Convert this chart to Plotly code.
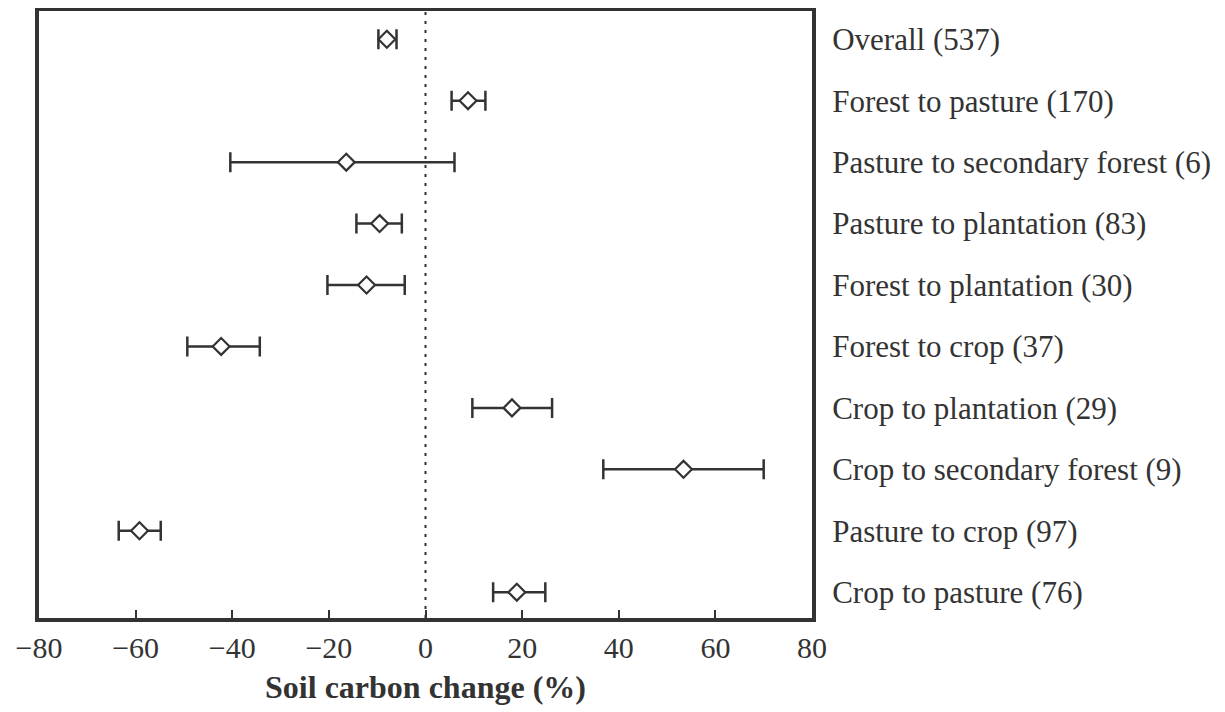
import plotly.graph_objects as go

categories = ["Overall (537)", "Forest to pasture (170)", "Pasture to secondary forest (6)",
              "Pasture to plantation (83)", "Forest to plantation (30)", "Forest to crop (37)",
              "Crop to plantation (29)", "Crop to secondary forest (9)", "Pasture to crop (97)",
              "Crop to pasture (76)"]
means = [-8.0, 8.8, -16.4, -9.5, -12.2, -42.3, 17.9, 53.4, -59.2, 18.9]
lower = [-9.75, 5.4, -40.4, -14.3, -20.3, -49.3, 9.7, 36.8, -63.5, 14.0]
upper = [-6.0, 12.4, 6.0, -4.9, -4.3, -34.3, 26.2, 70.0, -54.8, 24.8]
xticks = [-80, -60, -40, -20, 0, 20, 40, 60, 80]
xticklabels = ["\u221280", "\u221260", "\u221240", "\u221220", "0", "20", "40", "60", "80"]

rows = list(range(len(categories)))
err_plus = [u - m for u, m in zip(upper, means)]
err_minus = [m - l for m, l in zip(means, lower)]

ink = "#333333"
txt = "#333333"
fig = go.Figure()
fig.add_trace(go.Scatter(
    x=means, y=rows, mode="markers",
    marker=dict(symbol="diamond", size=13, color="white", line=dict(color=ink, width=2.2)),
    error_x=dict(type="data", symmetric=False, array=err_plus, arrayminus=err_minus,
                 color=ink, thickness=2.5, width=10),
    showlegend=False, hoverinfo="skip",
))

fig.add_shape(type="line", x0=0, x1=0, y0=0, y1=1, xref="x", yref="paper",
              line=dict(color=ink, width=2, dash="3px,6px"), layer="below")

fig.update_layout(
    width=1225, height=712,
    margin=dict(l=31, r=421, t=3, b=102),
    paper_bgcolor="white", plot_bgcolor="white",
    font=dict(family="Liberation Serif", color=txt),
    xaxis=dict(range=[-80, 80], tickvals=xticks, ticktext=xticklabels,
               ticks="inside", ticklen=8, tickwidth=2, tickcolor=ink,
               showline=True, linecolor=ink, linewidth=4, mirror=True,
               showgrid=False, zeroline=False, automargin=False,
               tickfont=dict(size=30, family="Liberation Serif", color=txt),
               title=dict(text="<b>Soil carbon change (%)</b>", standoff=14,
                          font=dict(size=32, family="Liberation Serif", color=txt))),
    yaxis=dict(range=[9.42, -0.46], tickvals=rows, ticktext=categories, side="right",
               ticks="", showline=True, linecolor=ink, linewidth=4, mirror=True,
               showgrid=False, zeroline=False, ticklabelstandoff=10, automargin=False,
               tickfont=dict(size=31, family="Liberation Serif", color=txt)),
)

fig.write_html("out.html")
